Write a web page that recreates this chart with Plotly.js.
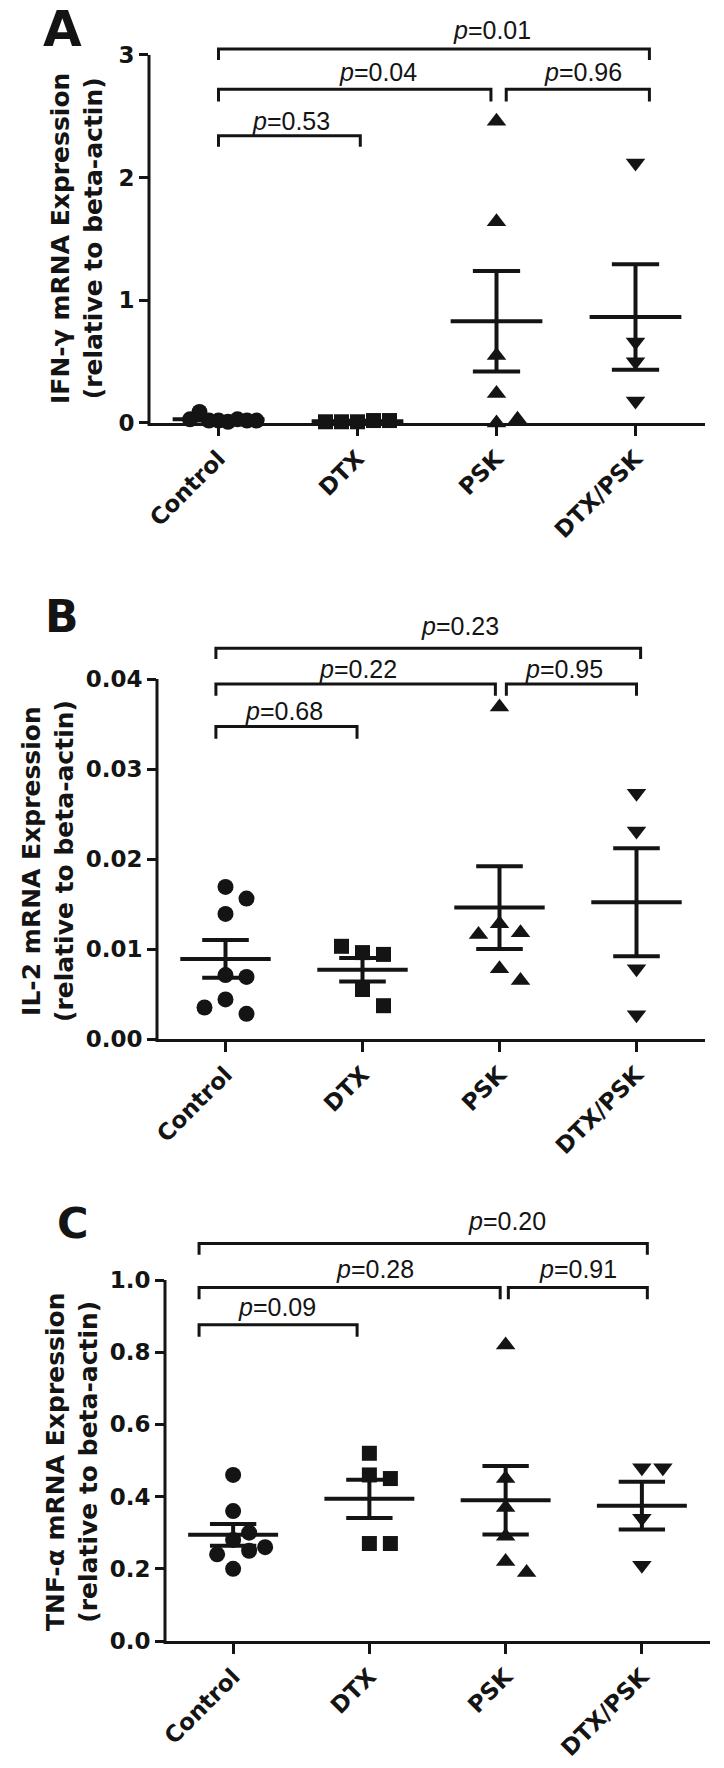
<!DOCTYPE html>
<html><head><meta charset="utf-8">
<script src="https://cdn.plot.ly/plotly-3.0.1.min.js"></script>
<style>html,body{margin:0;padding:0;background:#fff}#chart{width:724px;height:1768px}</style>
</head><body><div id="chart"></div>
<script>
// ---------------- DATA ----------------
const groups = ['Control', 'DTX', 'PSK', 'DTX/PSK'];

// Panel A: IFN-gamma
const ifnControl = [0.02, 0.01, 0.02, 0.03, 0.09, 0.02, 0.03, 0.02];
const ifnDTX     = [0.01, 0.02, 0.01, 0.02, 0.01];
const ifnPSK     = [2.46, 1.64, 0.55, 0.24, 0.00, 0.03];
const ifnDTXPSK  = [2.12, 0.66, 0.50, 0.18];
const ifnMean    = [0.03, 0.015, 0.83, 0.865];
const ifnSEM     = [0.01, 0.003, 0.41, 0.43];
const ifnP       = ['0.01', '0.04', '0.96', '0.53'];
const ifnTicks   = [0, 1, 2, 3];
const ifnTickText = ['0', '1', '2', '3'];

// Panel B: IL-2
const il2Control = [0.0169, 0.0156, 0.0139, 0.0071, 0.0069, 0.0044, 0.0028, 0.0035];
const il2DTX     = [0.0096, 0.0094, 0.0103, 0.0055, 0.0037];
const il2PSK     = [0.0369, 0.0128, 0.0118, 0.0116, 0.0078, 0.0065];
const il2DTXPSK  = [0.0273, 0.0231, 0.0078, 0.0027];
const il2Mean    = [0.0089, 0.0077, 0.0146, 0.0152];
const il2SEM     = [0.0021, 0.0013, 0.0046, 0.0060];
const il2P       = ['0.23', '0.22', '0.95', '0.68'];
const il2Ticks   = [0, 0.01, 0.02, 0.03, 0.04];
const il2TickText = ['0.00', '0.01', '0.02', '0.03', '0.04'];

// Panel C: TNF-alpha
const tnfControl = [0.46, 0.36, 0.28, 0.30, 0.25, 0.24, 0.26, 0.20];
const tnfDTX     = [0.52, 0.46, 0.45, 0.27, 0.27];
const tnfPSK     = [0.82, 0.45, 0.37, 0.29, 0.22, 0.19];
const tnfDTXPSK  = [0.48, 0.48, 0.34, 0.21];
const tnfMean    = [0.294, 0.394, 0.39, 0.375];
const tnfSEM     = [0.030, 0.053, 0.095, 0.066];
const tnfP       = ['0.20', '0.28', '0.91', '0.09'];
const tnfTicks   = [0, 0.2, 0.4, 0.6, 0.8, 1.0];
const tnfTickText = ['0.0', '0.2', '0.4', '0.6', '0.8', '1.0'];

const yTitles = ['IFN-\u03b3 mRNA Expression', 'IL-2 mRNA Expression', 'TNF-\u03b1 mRNA Expression'];
const yTitleSub = '(relative to beta-actin)';
const panelLetters = ['A', 'B', 'C'];
const comparisons = [[0, 3], [0, 2], [2, 3], [0, 1]];

// ---------------- STYLE / LAYOUT ----------------
const W = 724, H = 1768;
const BOLD = 'DejaVu Sans, Liberation Sans, Arial, sans-serif';
const THIN = 'Liberation Sans, Arial, Helvetica, sans-serif';
const INK = '#141414';
const symbols = ['circle', 'square', 'triangle-up', 'triangle-down'];
const symSize = [16, 15, 17, 17];

const panels = [
  { values: [ifnControl, ifnDTX, ifnPSK, ifnDTXPSK], mean: ifnMean, sem: ifnSEM, p: ifnP,
    ticks: ifnTicks, tickText: ifnTickText, topVal: 3,
    xLeft: 149, xRight: 705, yZero: 423, yTopTick: 55, rangeTop: 3.35,
    letterPos: [62, 29], letterSize: 50, titlePos: [77, 239],
    spans: [[0, 3.1], [0, 1.96], [2.07, 3.1], [0, 1.02]],
    lines: [[3.049, 2.959], [2.72, 2.62], [2.72, 2.62], [2.342, 2.252]],
    labels: [[1.97, 3.2], [1.15, 2.86], [2.62, 2.86], [0.52, 2.46]] },
  { values: [il2Control, il2DTX, il2PSK, il2DTXPSK], mean: il2Mean, sem: il2SEM, p: il2P,
    ticks: il2Ticks, tickText: il2TickText, topVal: 0.04,
    xLeft: 157, xRight: 705, yZero: 1039, yTopTick: 679, rangeTop: 0.0475,
    letterPos: [62, 616], letterSize: 44, titlePos: [48, 861],
    spans: [[-0.07, 3.03], [-0.07, 1.97], [2.05, 3.0], [-0.07, 0.96]],
    lines: [[0.04343, 0.04222], [0.03945, 0.03815], [0.03945, 0.03815], [0.03472, 0.03335]],
    labels: [[1.71, 0.0459], [0.97, 0.0411], [2.47, 0.0411], [0.43, 0.0365]] },
  { values: [tnfControl, tnfDTX, tnfPSK, tnfDTXPSK], mean: tnfMean, sem: tnfSEM, p: tnfP,
    ticks: tnfTicks, tickText: tnfTickText, topVal: 1.0,
    xLeft: 165, xRight: 710, yZero: 1641, yTopTick: 1280, rangeTop: 1.2,
    letterPos: [73, 1223], letterSize: 43, titlePos: [72, 1462],
    spans: [[-0.25, 3.04], [-0.25, 1.96], [2.02, 3.04], [-0.25, 0.91]],
    lines: [[1.101, 1.07], [0.979, 0.947], [0.979, 0.947], [0.876, 0.843]],
    labels: [[2.01, 1.163], [1.04, 1.03], [2.53, 1.03], [0.32, 0.925]] }
];

// beeswarm: horizontal offsets computed from pixel collisions between points
function swarm(vals, center, pxY, pxX) {
  const minDist = 17;
  const placed = [], steps = [];
  vals.forEach(v => {
    const yp = v * pxY;
    for (let k = 0; k < 40; k++) {
      const n = Math.ceil(k / 2);
      const s = k === 0 ? 0 : (k % 2 ? n : -n);
      if (placed.every(p => p.s === s ? Math.abs(p.y - yp) >= minDist : true)) {
        placed.push({ s: s, y: yp }); steps.push(s); break;
      }
    }
  });
  const m = Math.max(...steps.map(Math.abs));
  const stepPx = m <= 1 ? 21 : Math.min(16, 38 / m);
  return steps.map(s => center + s * stepPx / pxX);
}

const traces = [], shapes = [], annotations = [];
const layout = {
  width: W, height: H, margin: { l: 0, r: 0, t: 0, b: 0, pad: 0 },
  paper_bgcolor: '#fff', plot_bgcolor: 'rgba(0,0,0,0)', showlegend: false,
  font: { family: THIN, color: INK }
};

panels.forEach((P, k) => {
  const sfx = k === 0 ? '' : String(k + 1);
  const xa = 'x' + sfx, ya = 'y' + sfx;
  const pxY = (P.yZero - P.yTopTick) / P.topVal;
  const plotTopPx = P.yZero - P.rangeTop * pxY;
  const pxX = (P.xRight - P.xLeft) / 4;
  const yDom = [1 - P.yZero / H, 1 - plotTopPx / H];

  layout['xaxis' + sfx] = {
    domain: [P.xLeft / W, P.xRight / W], range: [-0.5, 3.5], anchor: ya,
    showline: true, linewidth: 3, linecolor: INK, showgrid: false, zeroline: false,
    ticks: 'outside', ticklen: 10, tickwidth: 3, tickcolor: INK,
    tickvals: [0, 1, 2, 3], ticktext: groups, tickangle: -45,
    tickfont: { family: BOLD, size: 23, color: INK, weight: 'bold' }, fixedrange: true
  };
  layout['yaxis' + sfx] = {
    domain: yDom, range: [0, P.rangeTop], anchor: xa,
    showline: false, showgrid: false, zeroline: false,
    ticks: 'outside', ticklen: 9, tickwidth: 3, tickcolor: INK,
    tickvals: P.ticks, ticktext: P.tickText,
    tickfont: { family: BOLD, size: 23, color: INK, weight: 'bold' }, fixedrange: true
  };

  // y axis line running from 0 up to the top tick
  const toPaper = v => yDom[0] + (v / P.rangeTop) * (yDom[1] - yDom[0]);
  shapes.push({ type: 'line', xref: xa + ' domain', yref: 'paper', x0: 0, x1: 0,
    y0: toPaper(0) - 3 / H, y1: toPaper(P.topVal), line: { color: INK, width: 3 } });

  // mean and SEM bars
  const mx = [], my = [];
  P.mean.forEach((m, i) => {
    const s = P.sem[i];
    mx.push(i - 0.33, i + 0.33, null, i, i, null, i - 0.17, i + 0.17, null, i - 0.17, i + 0.17, null);
    my.push(m, m, null, m - s, m + s, null, m + s, m + s, null, m - s, m - s, null);
  });
  traces.push({ type: 'scatter', mode: 'lines', x: mx, y: my, xaxis: xa, yaxis: ya,
    line: { color: INK, width: 4 }, hoverinfo: 'skip', connectgaps: false });

  // individual points
  P.values.forEach((vals, i) => {
    traces.push({ type: 'scatter', mode: 'markers', x: swarm(vals, i, pxY, pxX), y: vals,
      xaxis: xa, yaxis: ya, cliponaxis: false, name: groups[i],
      marker: { symbol: symbols[i], size: symSize[i], color: INK, line: { width: 0 } } });
  });

  // significance brackets with p values
  comparisons.forEach((c, j) => {
    const [a, b] = P.spans[j];
    const [yt, yl] = P.lines[j];
    shapes.push({ type: 'path', xref: xa, yref: ya,
      path: `M ${a},${yl} L ${a},${yt} L ${b},${yt} L ${b},${yl}`,
      line: { color: INK, width: 3 } });
    annotations.push({ xref: xa, yref: ya, x: P.labels[j][0], y: P.labels[j][1],
      text: '<i>p</i>=' + P.p[j], showarrow: false,
      font: { family: THIN, size: 25, color: INK } });
  });

  // y-axis title (two lines), centred on the axis line
  annotations.push({ xref: 'paper', yref: 'paper', x: P.titlePos[0] / W, y: 1 - P.titlePos[1] / H,
    text: yTitles[k] + '<br>' + yTitleSub, textangle: -90, showarrow: false,
    xanchor: 'center', yanchor: 'middle',
    font: { family: BOLD, size: 25, color: INK, weight: 'bold' } });

  // panel letter
  annotations.push({ xref: 'paper', yref: 'paper', x: P.letterPos[0] / W, y: 1 - P.letterPos[1] / H,
    text: panelLetters[k], showarrow: false, xanchor: 'center', yanchor: 'middle',
    font: { family: BOLD, size: P.letterSize, color: INK, weight: 'bold' } });
});

layout.shapes = shapes;
layout.annotations = annotations;
Plotly.newPlot('chart', traces, layout, { displayModeBar: false, staticPlot: true });
</script>
</body></html>
